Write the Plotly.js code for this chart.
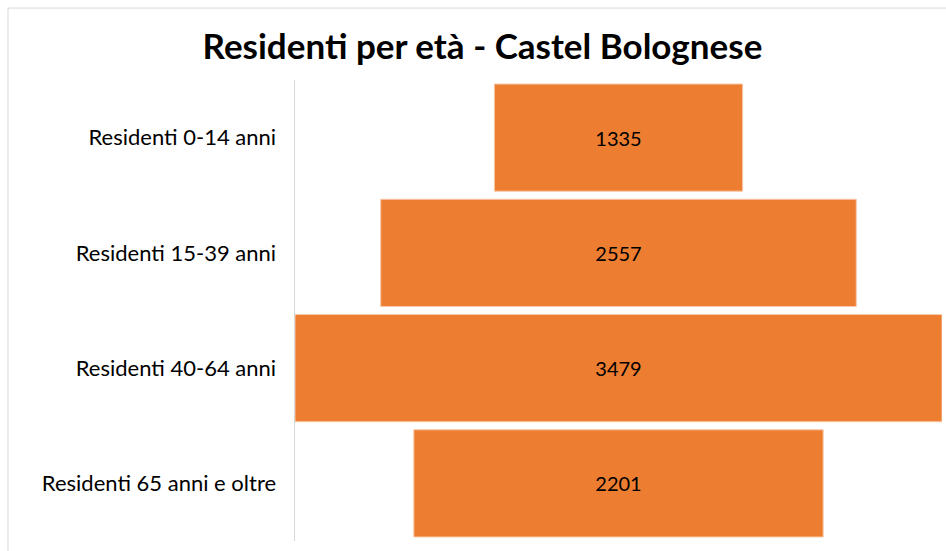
<!DOCTYPE html>
<html><head><meta charset="utf-8">
<script src="https://cdn.plot.ly/plotly-3.0.1.min.js"></script>
<style>html,body{margin:0;padding:0;background:#fff}</style>
</head><body>
<div id="chart" style="width:946px;height:551px"></div>
<script>
const categories = ["Residenti 0-14 anni", "Residenti 15-39 anni", "Residenti 40-64 anni", "Residenti 65 anni e oltre"];
const residents = [1335, 2557, 3479, 2201];
const maxVal = Math.max(...residents);

const trace = {
  type: 'funnel',
  y: categories,
  x: residents,
  textinfo: 'value',
  textposition: 'inside',
  insidetextanchor: 'middle',
  textfont: {family: 'Lato, "Noto Sans", sans-serif', size: 20, color: '#000'},
  marker: {color: '#ED7D31', line: {color: '#F8C9A8', width: 1}},
  connector: {visible: false},
  hoverinfo: 'y+x'
};

const layout = {
  width: 946, height: 551,
  margin: {l: 295, r: 4, t: 80, b: 10},
  paper_bgcolor: '#fff', plot_bgcolor: '#fff',
  showlegend: false,
  funnelgap: 0.07,
  title: {text: '<b>Residenti per età - Castel Bolognese</b>', x: 0.51, xanchor: 'center', y: 0.915, yanchor: 'middle',
          font: {family: 'Lato, "Noto Sans", sans-serif', size: 35, color: '#000'}},
  xaxis: {range: [-maxVal/2, maxVal/2], visible: false, fixedrange: true},
  yaxis: {showline: true, linecolor: '#d9d9d9', linewidth: 1.5, ticks: '', ticklabelstandoff: 13,
          tickfont: {family: 'Lato, "Noto Sans", sans-serif', size: 22, color: '#000'}},
  shapes: [{type: 'rect', xref: 'paper', yref: 'paper', x0: -0.4436, x1: 2, y0: -0.5, y1: 1.156,
            line: {color: '#d9d9d9', width: 1}, fillcolor: 'rgba(0,0,0,0)', layer: 'below'}]
};

Plotly.newPlot('chart', [trace], layout, {displayModeBar: false, staticPlot: true});
</script>
</body></html>
